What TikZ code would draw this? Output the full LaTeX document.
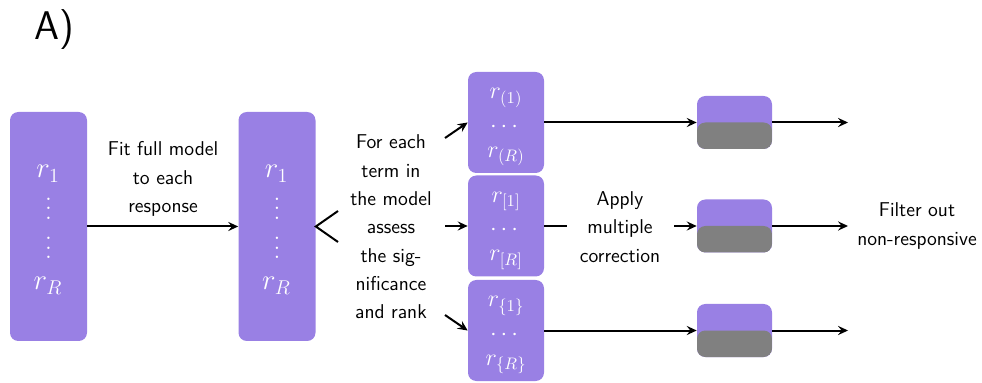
\documentclass[tikz,border=0pt]{standalone}
\usepackage{amsmath}
\usetikzlibrary{arrows.meta}
\definecolor{boxpurple}{RGB}{153,128,228}
\definecolor{boxgrey}{RGB}{128,128,128}
\newcommand{\myvdots}{\vbox{\baselineskip5.6pt \lineskiplimit0pt \hbox{.}\hbox{.}\hbox{.}}}
\tikzset{
  tallbox/.style={fill=boxpurple, rounded corners=5pt, minimum width=46.2pt, minimum height=137.4pt, inner sep=0pt},
  midbox/.style={fill=boxpurple, rounded corners=5pt, minimum width=45.6pt, minimum height=60.6pt, inner sep=0pt},
  splitbox/.style={fill=boxpurple, rounded corners=5pt, minimum width=45pt, minimum height=31.8pt, inner sep=0pt,
    path picture={\fill[boxgrey] (path picture bounding box.west) rectangle (path picture bounding box.south east);}},
  bigmath/.style={text=white, inner sep=0pt, font=\fontsize{17.5}{22}\selectfont},
  midmath/.style={text=white, inner sep=0pt, font=\fontsize{14}{17}\selectfont},
  lbl/.style={align=center, font=\fontsize{12}{17}\selectfont\sffamily},
  conn/.style={line width=1.2pt, -{Stealth[length=6pt,width=5.5pt,inset=2.2pt]}},
  plain/.style={line width=1.2pt}
}
\begin{document}
\begin{tikzpicture}[x=0.6pt,y=-0.6pt]
\useasboundingbox (0,0) rectangle (982,383);
\node[font=\fontsize{24}{28}\selectfont\sffamily] (title) at (54,30) {A)};

% tall boxes
\node[tallbox] (b1) at (48.5,226.5) {};
\node[bigmath, anchor=base] (b1a) at (48,178) {$r_1$};
\node[bigmath] (b1b) at (48.5,208.5) {\myvdots};
\node[bigmath] (b1c) at (48.5,248) {\myvdots};
\node[bigmath, anchor=base] (b1d) at (48,290) {$r_R$};

\node[tallbox] (b2) at (277,226.5) {};
\node[bigmath, anchor=base] (b2a) at (276.5,178) {$r_1$};
\node[bigmath] (b2b) at (277,208.5) {\myvdots};
\node[bigmath] (b2c) at (277,248) {\myvdots};
\node[bigmath, anchor=base] (b2d) at (276.5,290) {$r_R$};

\draw[conn] (b1.east) -- (b2.west);
\node[lbl] (fit) at (163,179) {Fit full model\\to each\\response};

\coordinate (f1) at (338,211);
\coordinate (f2) at (338,242);
\draw[plain] (f1) -- (b2.east) -- (f2);

\node[lbl] (term) at (391,227) {For each\\term in\\the model\\assess\\the sig-\\nificance\\and rank};

% middle column
\node[midbox] (c1) at (506,122.5) {};
\node[midbox] (c2) at (506,226) {};
\node[midbox] (c3) at (506,330.5) {};
\node[midmath, anchor=base] (c1a) at (506,99) {$r_{(1)}$};
\node[midmath] (c1b) at (506,127) {$\cdots$};
\node[midmath, anchor=base] (c1c) at (506,157.5) {$r_{(R)}$};
\node[midmath, anchor=base] (c2a) at (506,202.5) {$r_{[1]}$};
\node[midmath] (c2b) at (506,230.5) {$\cdots$};
\node[midmath, anchor=base] (c2c) at (506,261) {$r_{[R]}$};
\node[midmath, anchor=base] (c3a) at (506,307) {$r_{\{1\}}$};
\node[midmath] (c3b) at (506,335) {$\cdots$};
\node[midmath, anchor=base] (c3c) at (506,365.5) {$r_{\{R\}}$};

\coordinate (s1) at (445,138);
\coordinate (s2) at (445,226);
\coordinate (s3) at (445,315);
\draw[conn] (s1) -- (c1.west);
\draw[conn] (s2) -- (c2.west);
\draw[conn] (s3) -- (c3.west);

\node[splitbox] (d1) at (734.5,122.5) {};
\node[splitbox] (d2) at (734.5,226) {};
\node[splitbox] (d3) at (734.5,330.5) {};

\draw[conn] (c1.east) -- (d1.west);
\coordinate (m1) at (567,226);
\coordinate (m2) at (674,226);
\draw[plain] (c2.east) -- (m1);
\node[lbl] (apply) at (620,227) {Apply\\multiple\\correction};
\draw[conn] (m2) -- (d2.west);
\draw[conn] (c3.east) -- (d3.west);

\coordinate (e1) at (848,122.5);
\coordinate (e2) at (848,226);
\coordinate (e3) at (848,330.5);
\draw[conn] (d1.east) -- (e1);
\draw[conn] (d2.east) -- (e2);
\draw[conn] (d3.east) -- (e3);

\node[lbl] (filter) at (917,226) {Filter out\\non-responsive};
\end{tikzpicture}
\end{document}
